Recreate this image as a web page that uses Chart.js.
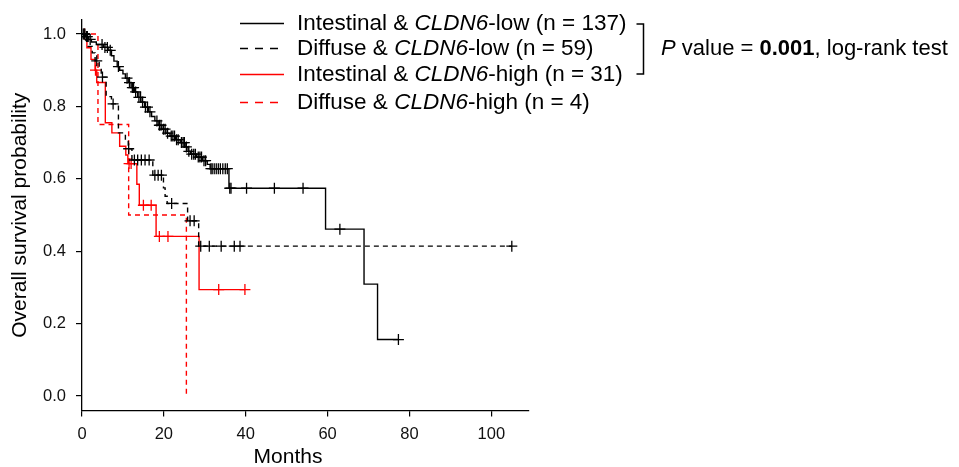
<!DOCTYPE html>
<html>
<head>
<meta charset="utf-8">
<script src="https://cdn.jsdelivr.net/npm/chart.js@4.4.1/dist/chart.umd.min.js"></script>
<style>
body { margin: 0; background: #fff; }
#wrap { position: relative; width: 959px; height: 467px; font-family: "Liberation Sans", Arial, sans-serif; color: #000; }
#chart { position: absolute; left: 0; top: 0; }
.row { position: absolute; left: 240px; height: 26px; line-height: 26px; font-size: 22.5px; white-space: nowrap; }
.row svg { position: absolute; left: 0; top: 12px; }
.row span { position: absolute; left: 57px; top: 0; }
#pval { position: absolute; left: 661px; top: 35px; height: 26px; line-height: 26px; font-size: 22px; white-space: nowrap; }
#bracket { position: absolute; left: 0; top: 0; }
#xtitle { position: absolute; left: 0; width: 576px; top: 443px; height: 26px; line-height: 26px; font-size: 21px; text-align: center; }
</style>
</head>
<body>
<div id="wrap">
  <canvas id="chart" width="959" height="467"></canvas>
  <svg id="bracket" width="959" height="467"><path d="M636.5 24 H643.5 V74 H636.5" fill="none" stroke="#000" stroke-width="1.5"/></svg>
  <div id="legend"></div>
  <div id="pval"><i>P</i> value = <b>0.001</b>, log-rank test</div>
  <div id="xtitle">Months</div>
</div>
<script>
// Kaplan-Meier curves: event times (months) and survival after each event, plus censor times
const intLowTimes = [0.8, 1.6, 2.3, 3.5, 5.2, 6.4, 7.2, 7.8, 8.6, 9.2, 10.0, 10.6, 11.3, 12.0, 12.8, 13.6, 14.4, 15.3, 16.2, 17.0, 17.8, 18.6, 19.5, 20.5, 21.5, 22.8, 24.0, 25.2, 25.9, 26.5, 28.0, 29.4, 30.6, 31.3, 35.9, 59.5, 68.9, 72.2];
const intLowSurv = [0.993, 0.985, 0.978, 0.971, 0.963, 0.955, 0.940, 0.925, 0.910, 0.900, 0.890, 0.878, 0.866, 0.852, 0.840, 0.825, 0.812, 0.798, 0.785, 0.772, 0.760, 0.748, 0.737, 0.726, 0.718, 0.708, 0.700, 0.688, 0.676, 0.668, 0.660, 0.650, 0.640, 0.628, 0.574, 0.461, 0.309, 0.156];
const intLowCensor = [0.3, 0.5, 0.7, 1.1, 1.3, 2.0, 4.9, 5.6, 6.2, 6.9, 8.9, 11.0, 11.6, 12.3, 12.6, 13.1, 13.9, 14.3, 14.8, 15.5, 16.0, 16.6, 18.3, 18.9, 19.3, 19.9, 20.3, 20.9, 21.8, 22.2, 22.6, 23.1, 23.5, 24.3, 24.7, 25.0, 25.5, 26.1, 26.8, 27.3, 27.7, 28.4, 28.8, 29.2, 29.8, 30.2, 31.5, 31.8, 32.3, 32.8, 33.3, 33.8, 34.4, 35.0, 35.5, 36.1, 36.4, 40.2, 47.0, 54.0, 63.0, 77.3];

const diffLowTimes = [0.5, 1.5, 2.5, 3.2, 4.2, 4.7, 5.9, 7.2, 8.9, 10.6, 11.3, 12.2, 17.3, 19.9, 20.3, 20.8, 25.8, 28.5];
const diffLowSurv = [0.983, 0.966, 0.948, 0.926, 0.904, 0.881, 0.827, 0.807, 0.727, 0.706, 0.683, 0.652, 0.610, 0.575, 0.552, 0.532, 0.484, 0.414];
const diffLowCensor = [3.6, 5.0, 7.6, 11.4, 12.8, 13.6, 14.5, 15.4, 16.4, 17.8, 18.6, 19.4, 21.9, 26.4, 27.4, 29.0, 31.1, 34.0, 37.2, 38.6, 105.0];

const intHighTimes = [1.2, 2.2, 3.2, 3.6, 5.7, 7.3, 9.2, 10.7, 11.2, 13.4, 14.0, 18.1, 28.6];
const intHighSurv = [0.962, 0.930, 0.900, 0.866, 0.755, 0.727, 0.690, 0.666, 0.642, 0.585, 0.527, 0.441, 0.294];
const intHighCensor = [0.6, 3.3, 11.5, 12.0, 15.0, 16.9, 18.9, 21.0, 33.4, 39.8];

const diffHighTimes = [3.9, 11.4, 25.5];
const diffHighSurv = [0.75, 0.5, 0];
const diffHighCensor = [];

const xTicks = [0, 20, 40, 60, 80, 100];
const yTicks = [0, 0.2, 0.4, 0.6, 0.8, 1.0];

const groups = [
    { label: 'Intestinal & <i>CLDN6</i>-low (n = 137)', times: intLowTimes, surv: intLowSurv, censor: intLowCensor, color: '#000000', dash: [] },
    { label: 'Diffuse & <i>CLDN6</i>-low (n = 59)', times: diffLowTimes, surv: diffLowSurv, censor: diffLowCensor, color: '#000000', dash: [5, 4] },
    { label: 'Intestinal & <i>CLDN6</i>-high (n = 31)', times: intHighTimes, surv: intHighSurv, censor: intHighCensor, color: '#ff0000', dash: [] },
    { label: 'Diffuse & <i>CLDN6</i>-high (n = 4)', times: diffHighTimes, surv: diffHighSurv, censor: diffHighCensor, color: '#ff0000', dash: [5, 4] }
];

function survAt(g, t) {
    let s = 1;
    for (let i = 0; i < g.times.length; i++) {
        if (g.times[i] <= t) s = g.surv[i];
    }
    return s;
}

function stepPoints(g) {
    const pts = [{ x: 0, y: 1 }];
    g.times.forEach((t, i) => pts.push({ x: t, y: g.surv[i] }));
    const lastT = Math.max(g.times[g.times.length - 1], ...g.censor);
    if (lastT > g.times[g.times.length - 1]) pts.push({ x: lastT, y: survAt(g, lastT) });
    return pts;
}

const datasets = [];
groups.forEach(g => {
    datasets.push({
        data: stepPoints(g),
        stepped: 'before',
        borderColor: g.color,
        borderWidth: 1.4,
        borderDash: g.dash,
        pointRadius: 0,
        fill: false
    });
    datasets.push({
        data: g.censor.map(t => ({ x: t, y: survAt(g, t) })),
        showLine: false,
        pointStyle: 'cross',
        pointRadius: 5.5,
        pointBorderWidth: 1.3,
        pointBorderColor: g.color,
        borderColor: g.color
    });
});

// legend rows (html so CLDN6 can be italic)
const rowCenters = [22.5, 48, 74, 102];
const legend = document.getElementById('legend');
groups.forEach((g, i) => {
    const row = document.createElement('div');
    row.className = 'row';
    row.style.top = (rowCenters[i] - 13) + 'px';
    const dashAttr = g.dash.length ? ' stroke-dasharray="8,7"' : '';
    row.innerHTML = '<svg width="44" height="3"><line x1="0" y1="1.5" x2="44" y2="1.5" stroke="' + g.color + '" stroke-width="1.6"' + dashAttr + '/></svg><span>' + g.label + '</span>';
    legend.appendChild(row);
});

const font = { family: '"Liberation Sans", Arial, sans-serif', size: 16.5 };
const ctx = document.getElementById('chart').getContext('2d');
const kmChart = new Chart(ctx, {
    type: 'line',
    data: { datasets: datasets },
    options: {
        responsive: false,
        animation: false,
        devicePixelRatio: 1,
        layout: { padding: { top: 12, right: 430, bottom: 0, left: 0 } },
        plugins: { legend: { display: false }, tooltip: { enabled: false } },
        scales: {
            x: {
                type: 'linear',
                min: 0,
                max: 109.2,
                afterBuildTicks: s => { s.ticks = xTicks.map(v => ({ value: v })); },
                afterFit: s => { s.height = 56.5; },
                grid: { drawOnChartArea: false, tickLength: 6, color: '#000', lineWidth: 1.2 },
                border: { color: '#000', width: 1.3 },
                ticks: { font: font, color: '#111', padding: 8, maxRotation: 0, callback: v => String(v) }
            },
            y: {
                type: 'linear',
                min: -0.04,
                max: 1.039,
                afterBuildTicks: s => { s.ticks = yTicks.map(v => ({ value: v })); },
                afterFit: s => { s.width = 82; },
                grid: { drawOnChartArea: false, tickLength: 6, color: '#000', lineWidth: 1.2 },
                border: { color: '#000', width: 1.3 },
                ticks: { font: font, color: '#111', padding: 10, callback: v => v.toFixed(1) },
                title: {
                    display: true,
                    text: 'Overall survival probability',
                    color: '#000',
                    font: { family: '"Liberation Sans", Arial, sans-serif', size: 21, lineHeight: 1.2 },
                    padding: { top: 8, bottom: 0 }
                }
            }
        }
    }
});
</script>
</body>
</html>
